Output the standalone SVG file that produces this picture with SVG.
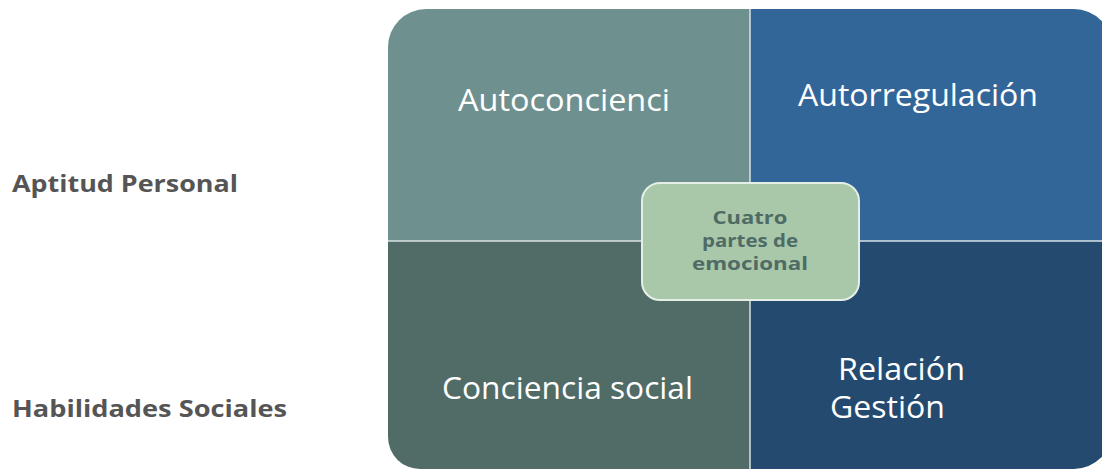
<svg xmlns="http://www.w3.org/2000/svg" width="1102" height="470" viewBox="0 0 1102 470">
<style>
.q{font-family:"Open Sans","Noto Sans","DejaVu Sans",sans-serif;font-size:31px;fill:#FFFFFF}
.side{font-family:"Open Sans","Noto Sans","DejaVu Sans",sans-serif;font-size:23px;font-weight:bold;fill:#555555}
.c{font-family:"Open Sans","Noto Sans","DejaVu Sans",sans-serif;font-size:17px;font-weight:bold;fill:#4F6B66;text-anchor:middle}
.div{stroke:#D8E2E6;stroke-width:1.5;fill:none}
</style>
<rect width="1102" height="470" fill="#FFFFFF"/>
<g id="autoconciencia">
<path d="M388,241 V47 A38,38 0 0 1 426,9 H750 V241 Z" fill="#6E9190"/>
<text class="q" x="458" y="111" textLength="212" lengthAdjust="spacingAndGlyphs">Autoconcienci</text>
</g>
<g id="autorregulacion">
<path d="M750,9 H1074 A38,38 0 0 1 1112,47 V241 H750 Z" fill="#336698"/>
<text class="q" x="798" y="106" textLength="240" lengthAdjust="spacingAndGlyphs">Autorregulación</text>
</g>
<g id="conciencia-social">
<path d="M388,241 H750 V469 H420 A32,32 0 0 1 388,437 Z" fill="#516B67"/>
<text class="q" x="442" y="399" textLength="251" lengthAdjust="spacingAndGlyphs">Conciencia social</text>
</g>
<g id="relacion-gestion">
<path d="M750,241 H1112 V431 A38,38 0 0 1 1074,469 H750 Z" fill="#244A70"/>
<text class="q" x="838" y="380" textLength="127" lengthAdjust="spacingAndGlyphs">Relación</text>
<text class="q" x="830" y="418" textLength="115" lengthAdjust="spacingAndGlyphs">Gestión</text>
</g>
<g id="connectors">
<line class="div" x1="750" y1="9" x2="750" y2="469"/>
<line class="div" x1="388" y1="241" x2="1112" y2="241"/>
</g>
<g id="centro">
<rect x="642" y="183" width="217" height="117" rx="18" ry="18" fill="#A9C8AA" stroke="#E6EFE6" stroke-width="2"/>
<text class="c"><tspan x="750" y="224" textLength="75" lengthAdjust="spacingAndGlyphs">Cuatro</tspan><tspan x="750" y="247" textLength="96" lengthAdjust="spacingAndGlyphs">partes de</tspan><tspan x="750" y="270" textLength="116" lengthAdjust="spacingAndGlyphs">emocional</tspan></text>
</g>
<g id="aptitud-personal">
<text class="side" x="12" y="192" textLength="226" lengthAdjust="spacingAndGlyphs">Aptitud Personal</text>
</g>
<g id="habilidades-sociales">
<text class="side" x="12" y="417" textLength="275" lengthAdjust="spacingAndGlyphs">Habilidades Sociales</text>
</g>
</svg>
